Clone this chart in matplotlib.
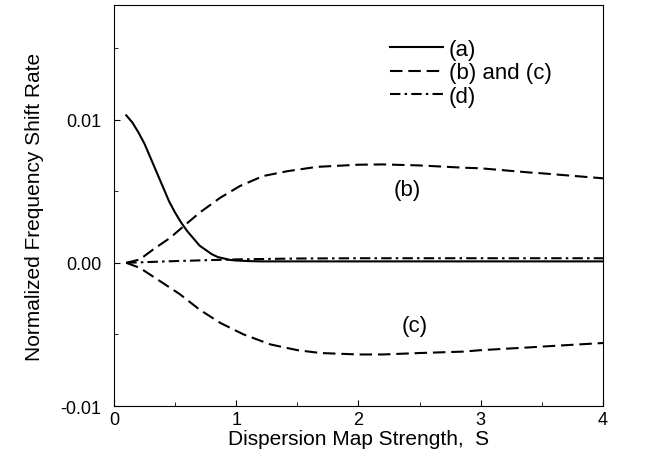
import numpy as np
import matplotlib
matplotlib.use("Agg")
import matplotlib.pyplot as plt
from matplotlib.ticker import MultipleLocator, FuncFormatter

plt.rcParams['font.family'] = ['Liberation Sans', 'DejaVu Sans']

# Curve (a): solid
s_a = [0.10, 0.15, 0.20, 0.25, 0.30, 0.35, 0.40, 0.45, 0.50, 0.55, 0.60, 0.65,
       0.70, 0.75, 0.80, 0.85, 0.90, 0.95, 1.00, 1.10, 1.20, 1.50, 2.0, 3.0, 4.0]
y_a = [0.0103, 0.0098, 0.0091, 0.0083, 0.0073, 0.0063, 0.0053, 0.0043, 0.0035,
       0.0028, 0.0022, 0.0017, 0.0012, 0.0009, 0.0006, 0.0004, 0.0003, 0.0002,
       0.00016, 0.00012, 0.0001, 0.0001, 0.0001, 0.0001, 0.0001]

# Curve (b): dashed, upper
s_b = [0.10, 0.21, 0.32, 0.46, 0.57, 0.70, 0.87, 1.03, 1.22, 1.42, 1.66, 2.0,
       2.2, 2.5, 2.86, 3.0, 3.41, 3.5, 4.0]
y_b = [0.0, 0.00023, 0.00093, 0.00175, 0.00256, 0.0035, 0.00455, 0.00536, 0.00606,
       0.0064, 0.0067, 0.00685, 0.00687, 0.0068, 0.00664, 0.0066, 0.0063, 0.00625, 0.0059]

# Curve (c): dashed, lower
s_c = [0.10, 0.21, 0.38, 0.54, 0.70, 0.87, 1.06, 1.28, 1.50, 1.69, 2.0, 2.2,
       2.5, 2.86, 3.0, 3.41, 3.5, 4.0]
y_c = [0.0, -0.00035, -0.0013, -0.0022, -0.00327, -0.0042, -0.0050, -0.0057,
       -0.0061, -0.0063, -0.0064, -0.0064, -0.0063, -0.0062, -0.0061, -0.0059,
       -0.00585, -0.0056]

# Curve (d): dash-dot
s_d = [0.10, 0.5, 1.0, 1.5, 2.0, 3.0, 4.0]
y_d = [0.0, 0.00012, 0.00024, 0.0003, 0.00032, 0.00032, 0.00032]

fig = plt.figure(figsize=(6.49, 4.64), dpi=100)
ax = fig.add_axes([0.1757, 0.1228, 0.7533, 0.8642])

ax.plot(s_a, y_a, color='black', linewidth=1.5, label='(a)')
ax.plot(s_b, y_b, color='black', linewidth=1.5, dashes=(6, 2.8), label='(b) and (c)')
ax.plot(s_c, y_c, color='black', linewidth=1.5, dashes=(6, 2.8))
ax.plot(s_d, y_d, color='black', linewidth=1.5, dashes=(5, 2, 1.2, 2), label='(d)')

# curve labels
ax.text(2.40, 0.0051, '(b)', fontsize=16, ha='center', va='center')
ax.text(2.46, -0.0044, '(c)', fontsize=16, ha='center', va='center')

ax.set_xlim(0, 4)
ax.set_ylim(-0.01, 0.018)
ax.xaxis.set_major_locator(MultipleLocator(1))
ax.xaxis.set_minor_locator(MultipleLocator(0.5))
ax.yaxis.set_major_locator(MultipleLocator(0.01))
ax.yaxis.set_minor_locator(MultipleLocator(0.005))
ax.yaxis.set_major_formatter(FuncFormatter(lambda v, _: f'{v:.2f}'))
ax.tick_params(which='both', direction='in', labelsize=13)
ax.tick_params(which='major', length=4)
ax.tick_params(which='minor', length=3)
ax.tick_params(axis='y', which='major', pad=9)

ax.set_xlabel('Dispersion Map Strength,  S', fontsize=15, labelpad=1)
ax.set_ylabel('Normalized Frequency Shift Rate', fontsize=15, labelpad=12)

leg = ax.legend(loc='upper left', bbox_to_anchor=(0.564, 0.915), frameon=False,
                fontsize=16, handlelength=2.4, handletextpad=0.25, labelspacing=0.1,
                borderpad=0, borderaxespad=0)

fig.savefig('out.png', dpi=100)
